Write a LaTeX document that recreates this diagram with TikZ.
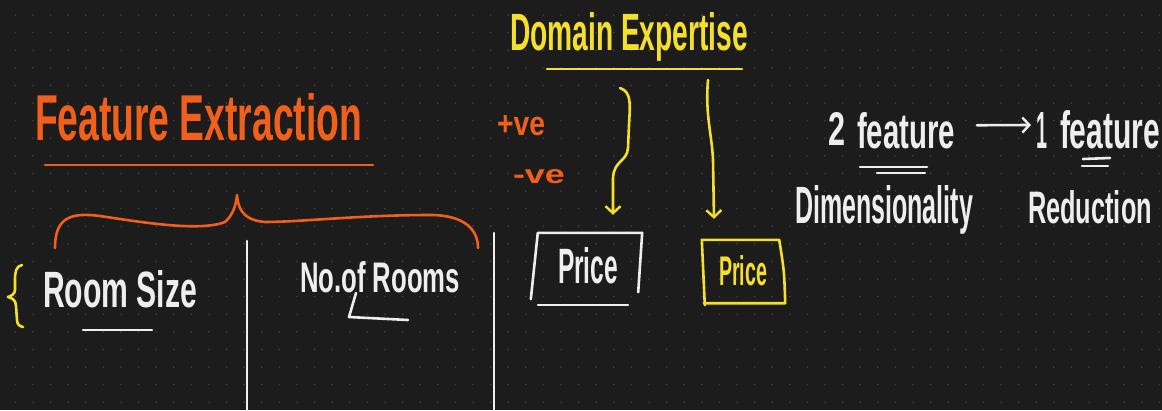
\documentclass[tikz,border=0pt]{standalone}
\usepackage{fontspec}
\setmainfont{Liberation Sans}
\usepackage{graphicx}
\usetikzlibrary{arrows.meta}
\definecolor{bg}{HTML}{1C1C1C}
\definecolor{dotc}{HTML}{3A3A3A}
\definecolor{org}{HTML}{F0601C}
\definecolor{yel}{HTML}{F4E02A}
\definecolor{wht}{HTML}{EEEEEE}
\begin{document}
\begin{tikzpicture}[x=1pt,y=-1pt,
  txt/.style={inner sep=0pt, outer sep=0pt, anchor=base west, font=\bfseries},
  pen/.style={line width=2.6pt, line cap=round, line join=round},
  barb/.style={-{Straight Barb[length=7pt,width=15pt,line width=2.4pt]}},
  pricebox/.style={inner sep=0pt, text=#1, font=\bfseries}]
\fill[bg] (0,0) rectangle (1162,410);
\useasboundingbox (0,0) rectangle (1162,410);
% dot grid
\foreach \i in {0,...,65}{
  \foreach \j in {0,...,22}{
    \fill[dotc] ({15.4+17.6*\i},{15+17.6*\j}) circle (1.1pt);
  }
}
% Feature Extraction
\node[txt, text=org] (fe) at (35,140) {\resizebox{327pt}{47pt}{Feature Extraction}};
\draw[pen, org] (45,165) -- (373,165);
% Domain Expertise
\node[txt, text=yel] (de) at (510,50) {\resizebox{238pt}{38pt}{Domain Expertise}};
\draw[pen, yel] (547,69) -- (742,69);
\coordinate (s1) at (620,88);
\coordinate (s2) at (708,80);
% +ve / -ve
\node[txt, text=org] (pos) at (497,135) {\resizebox{48pt}{20pt}{+ve}};
\node[txt, text=org] (neg) at (513,183) {\resizebox{52pt}{14pt}{-ve}};
% Price boxes
\node[pricebox=wht, minimum width=108pt, minimum height=66pt] (p1) at (588,266)
  {\resizebox{60pt}{36pt}{Price}};
\draw[pen, wht] ([xshift=-3pt]p1.south west) -- ([xshift=4pt]p1.north west)
  -- (p1.north east) -- ([xshift=-4pt,yshift=7pt]p1.south east);
\draw[pen, wht] (538,305) -- (628,305);
\node[pricebox=yel, minimum width=82pt, minimum height=62pt] (p2) at (743,271)
  {\resizebox{48pt}{30pt}{Price}};
\draw[pen, yel] ([xshift=3pt,yshift=-3pt]p2.south west) -- (p2.north west)
  -- ([xshift=-5pt]p2.north east) .. controls (p2.east) .. ([xshift=1pt,yshift=-1pt]p2.south east)
  -- ([xshift=2pt,yshift=-1pt]p2.south west);
% yellow arrows
\draw[pen, yel, barb] (s1) .. controls (632,92) and (630,105) .. (629,125)
  -- (628,148) .. controls (627,162) and (614,160) .. (613,178)
  -- ([xshift=25pt,yshift=18pt]p1.north);
\draw[pen, yel, barb] (s2) .. controls (705,115) and (712,135) .. (713,160)
  -- ([xshift=-29pt,yshift=21pt]p2.north);
% right side
\node[txt, text=wht] (two) at (828,145) {\resizebox{17pt}{33pt}{2}};
\node[txt, text=wht] (f1) at (857,148) {\resizebox{98pt}{36pt}{feature}};
\node[txt, text=wht] (one) at (1036,148) {\resizebox{11pt}{36pt}{1}};
\node[txt, text=wht] (f2) at (1060,148) {\resizebox{100pt}{38pt}{feature}};
\draw[pen, wht, barb] ([xshift=22pt,yshift=5pt]f1.east) -- ([xshift=-5pt,yshift=5pt]one.west);
\draw[pen, wht] (860,167) -- (927,167);
\draw[pen, wht] (877,173) -- (925,173);
\draw[pen, wht] (1083,159) -- (1110,158);
\draw[pen, wht] (1082,166) -- (1108,166);
\node[txt, text=wht] (dim) at (795,223) {\resizebox{178pt}{38pt}{Dimensionality}};
\node[txt, text=wht] (red) at (1028,223) {\resizebox{124pt}{33pt}{Reduction}};
% columns
\draw[pen, wht] (247,241) -- (247,410);
\draw[pen, wht] (494,233) -- (494,410);
% orange brace
\draw[pen, org] (55,248) .. controls (55,218) and (70,212) .. (100,216)
  .. controls (140,222) and (200,232) .. (225,222)
  .. controls (233,215) and (236,205) .. (237,195)
  .. controls (238,205) and (240,220) .. (265,222)
  .. controls (300,222) and (360,215) .. (430,215)
  .. controls (465,215) and (478,230) .. (478,248);
% yellow small brace
\draw[pen, yel] (22,265) .. controls (16,266) and (15,272) .. (15,280)
  -- (15,290) .. controls (15,294) and (11,296) .. (8,297)
  .. controls (12,298) and (16,300) .. (16,306)
  -- (17,320) .. controls (17,324) and (19,326) .. (23,327);
% Room Size / No.of Rooms
\node[txt, text=wht] (rs) at (43,307) {\resizebox{154pt}{37pt}{Room Size}};
\draw[pen, wht] (83,330) -- (152,330);
\node[txt, text=wht] (nr) at (300,292) {\resizebox{160pt}{31pt}{No.of Rooms}};
\draw[pen, wht] (356,293) -- (349,317) -- (408,320);
\end{tikzpicture}
\end{document}
